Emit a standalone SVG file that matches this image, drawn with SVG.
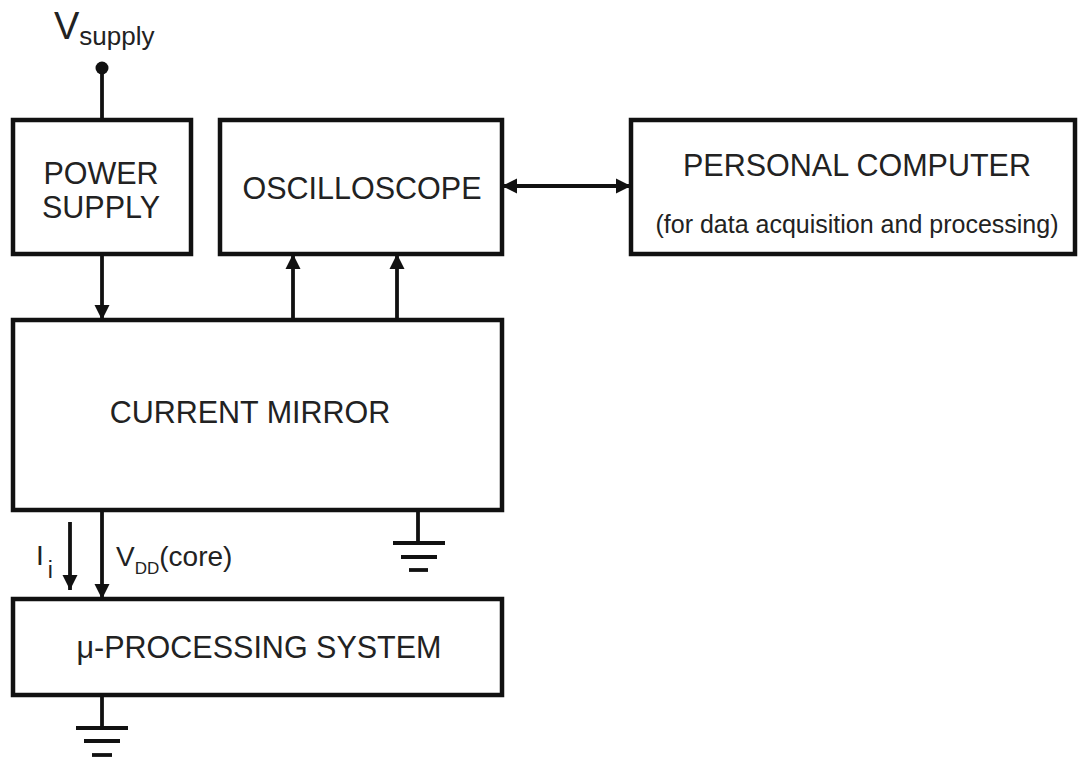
<svg xmlns="http://www.w3.org/2000/svg" width="1089" height="761" viewBox="0 0 1089 761">
<style>
.box{fill:#fff;stroke:#111;stroke-width:4.5}
.ln{stroke:#111;stroke-width:3.8;fill:none}
.t{font-family:"Liberation Sans",Arial,sans-serif;fill:#222;text-anchor:middle;font-size:30.5px}
.l{font-family:"Liberation Sans",Arial,sans-serif;fill:#222}
</style>
<defs>
<marker id="ah" viewBox="0 0 10 10" refX="10" refY="5" markerWidth="4" markerHeight="4.2" orient="auto" markerUnits="strokeWidth">
<path d="M0,0 L10,5 L0,10 z" fill="#111"/>
</marker>
<marker id="as" viewBox="0 0 10 10" refX="0" refY="5" markerWidth="4" markerHeight="4.2" orient="auto" markerUnits="strokeWidth">
<path d="M10,0 L0,5 L10,10 z" fill="#111"/>
</marker>
</defs>
<rect width="1089" height="761" fill="#fff"/>
<g id="vsupply">
<text class="l" x="54" y="39" font-size="38">V<tspan font-size="26" dy="6">supply</tspan></text>
<circle cx="102" cy="68" r="6.5" fill="#111"/>
<line class="ln" x1="102" y1="68" x2="102" y2="120"/>
</g>
<g id="power-supply">
<rect class="box" x="13" y="120" width="178" height="134"/>
<text class="t" x="101" y="184">POWER</text>
<text class="t" x="101" y="218">SUPPLY</text>
</g>
<g id="oscilloscope">
<rect class="box" x="220" y="120" width="282" height="134"/>
<text class="t" x="362" y="199">OSCILLOSCOPE</text>
</g>
<g id="pc">
<rect class="box" x="631" y="120" width="444" height="134"/>
<text class="t" x="857" y="176">PERSONAL COMPUTER</text>
<text class="t" x="857" y="233" style="font-size:25px">(for data acquisition and processing)</text>
</g>
<g id="current-mirror">
<rect class="box" x="13" y="320" width="489" height="190"/>
<text class="t" x="250" y="423">CURRENT MIRROR</text>
</g>
<g id="mu-processing">
<rect class="box" x="13" y="599" width="489" height="96"/>
<text class="t" x="259" y="658">μ-PROCESSING SYSTEM</text>
</g>
<g id="ground-cm">
<line class="ln" x1="418" y1="510" x2="418" y2="543"/>
<line class="ln" x1="393" y1="543" x2="445" y2="543"/>
<line class="ln" x1="401" y1="557" x2="437" y2="557"/>
<line class="ln" x1="409" y1="570" x2="428" y2="570"/>
</g>
<g id="ground-mu">
<line class="ln" x1="102" y1="695" x2="102" y2="728"/>
<line class="ln" x1="76" y1="728" x2="128" y2="728"/>
<line class="ln" x1="84" y1="741" x2="120" y2="741"/>
<line class="ln" x1="92" y1="755" x2="112" y2="755"/>
</g>
<g id="labels">
<text class="l" x="36" y="565" font-size="28">I<tspan font-size="23" dx="4" dy="13">i</tspan></text>
<text class="l" x="116" y="566" font-size="28">V<tspan font-size="17" dy="8">DD</tspan><tspan dy="-8">(core)</tspan></text>
</g>
<g id="connectors">
<line class="ln" x1="102" y1="254" x2="102" y2="320" marker-end="url(#ah)"/>
<line class="ln" x1="293" y1="320" x2="293" y2="254" marker-end="url(#ah)"/>
<line class="ln" x1="397" y1="320" x2="397" y2="254" marker-end="url(#ah)"/>
<line class="ln" x1="502" y1="186" x2="631" y2="186" marker-start="url(#as)" marker-end="url(#ah)"/>
<line class="ln" x1="70" y1="522" x2="70" y2="590" marker-end="url(#ah)"/>
<line class="ln" x1="102" y1="510" x2="102" y2="599" marker-end="url(#ah)"/>
</g>
</svg>
